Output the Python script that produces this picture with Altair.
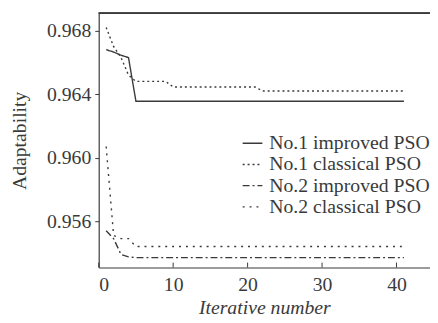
import altair as alt
import pandas as pd

series = ["No.1 improved PSO", "No.1 classical PSO", "No.2 improved PSO", "No.2 classical PSO"]
dashes = [[1, 0], [2, 3], [7, 3, 2, 3], [2, 5]]

x1_imp = [1, 2, 3, 4, 5, 41]
y1_imp = [0.9668, 0.96665, 0.96645, 0.9663, 0.96355, 0.96355]
x1_cla = [1, 2, 3, 4, 5, 9, 10, 21, 22, 41]
y1_cla = [0.9682, 0.9670, 0.9663, 0.9652, 0.9648, 0.9648, 0.96445, 0.96445, 0.9642, 0.9642]
x2_imp = [1, 2, 3, 4, 5, 41]
y2_imp = [0.9554, 0.9549, 0.9539, 0.95375, 0.9537, 0.9537]
x2_cla = [1, 2, 3, 4, 5, 41]
y2_cla = [0.9607, 0.9551, 0.9549, 0.9549, 0.9544, 0.9544]

x_ticks = [0, 10, 20, 30, 40]
y_ticks = [0.956, 0.960, 0.964, 0.968]

rows = []
for name, xs, ys in zip(series, [x1_imp, x1_cla, x2_imp, x2_cla], [y1_imp, y1_cla, y2_imp, y2_cla]):
    for i, (a, b) in enumerate(zip(xs, ys)):
        rows.append({"series": name, "iter": a, "val": b, "order": i})
df = pd.DataFrame(rows)

W, H = 336, 258
FONT = "Liberation Serif"
INK = "#3a3a3a"
FS = 20

xs = alt.Scale(domain=[0, 44.5], nice=False, zero=False)
ys = alt.Scale(domain=[0.95308, 0.9691], nice=False, zero=False)

lines = alt.Chart(df).mark_line(color=INK, strokeWidth=1.4).encode(
    x=alt.X("iter:Q", scale=xs, axis=alt.Axis(
        values=x_ticks, title="Iterative number", titleFontStyle="italic",
        tickSize=0, labelPadding=7, titlePadding=4, grid=False)),
    y=alt.Y("val:Q", scale=ys, axis=alt.Axis(
        values=y_ticks, format=".3f", title="Adaptability",
        tickSize=4, labelPadding=4, titlePadding=17, grid=False)),
    strokeDash=alt.StrokeDash("series:N", scale=alt.Scale(domain=series, range=dashes),
        legend=alt.Legend(orient="none", legendX=145, legendY=121, title=None,
                          symbolType="stroke", symbolSize=400, symbolStrokeWidth=1.4,
                          symbolStrokeColor=INK, labelFont=FONT, labelFontSize=FS,
                          labelColor=INK, labelOffset=6, rowPadding=0.5, padding=0,
                          labelLimit=400)),
    order="order:Q",
)

tick_df = pd.DataFrame({"t": x_ticks})
xticks = alt.Chart(tick_df).mark_rule(color=INK, strokeWidth=1).encode(
    x=alt.X("t:Q", scale=xs), y=alt.value(H), y2=alt.value(H - 5))

top = alt.Chart(tick_df).mark_rule(color=INK, strokeWidth=1).encode(
    x=alt.value(0), x2=alt.value(W), y=alt.value(0))

chart = alt.layer(lines, xticks, top).properties(
    width=W, height=H,
    autosize=alt.AutoSizeParams(type="none"),
    padding={"left": 92, "top": 3, "right": 0, "bottom": 50},
).configure_view(stroke=None).configure_axis(
    labelFont=FONT, titleFont=FONT, labelFontSize=FS, titleFontSize=FS,
    labelColor=INK, titleColor=INK, titleFontWeight="normal",
    domainColor=INK, tickColor=INK, domainWidth=1.2,
)

chart.save("out.html", embed_options={"renderer": "svg", "actions": False})
